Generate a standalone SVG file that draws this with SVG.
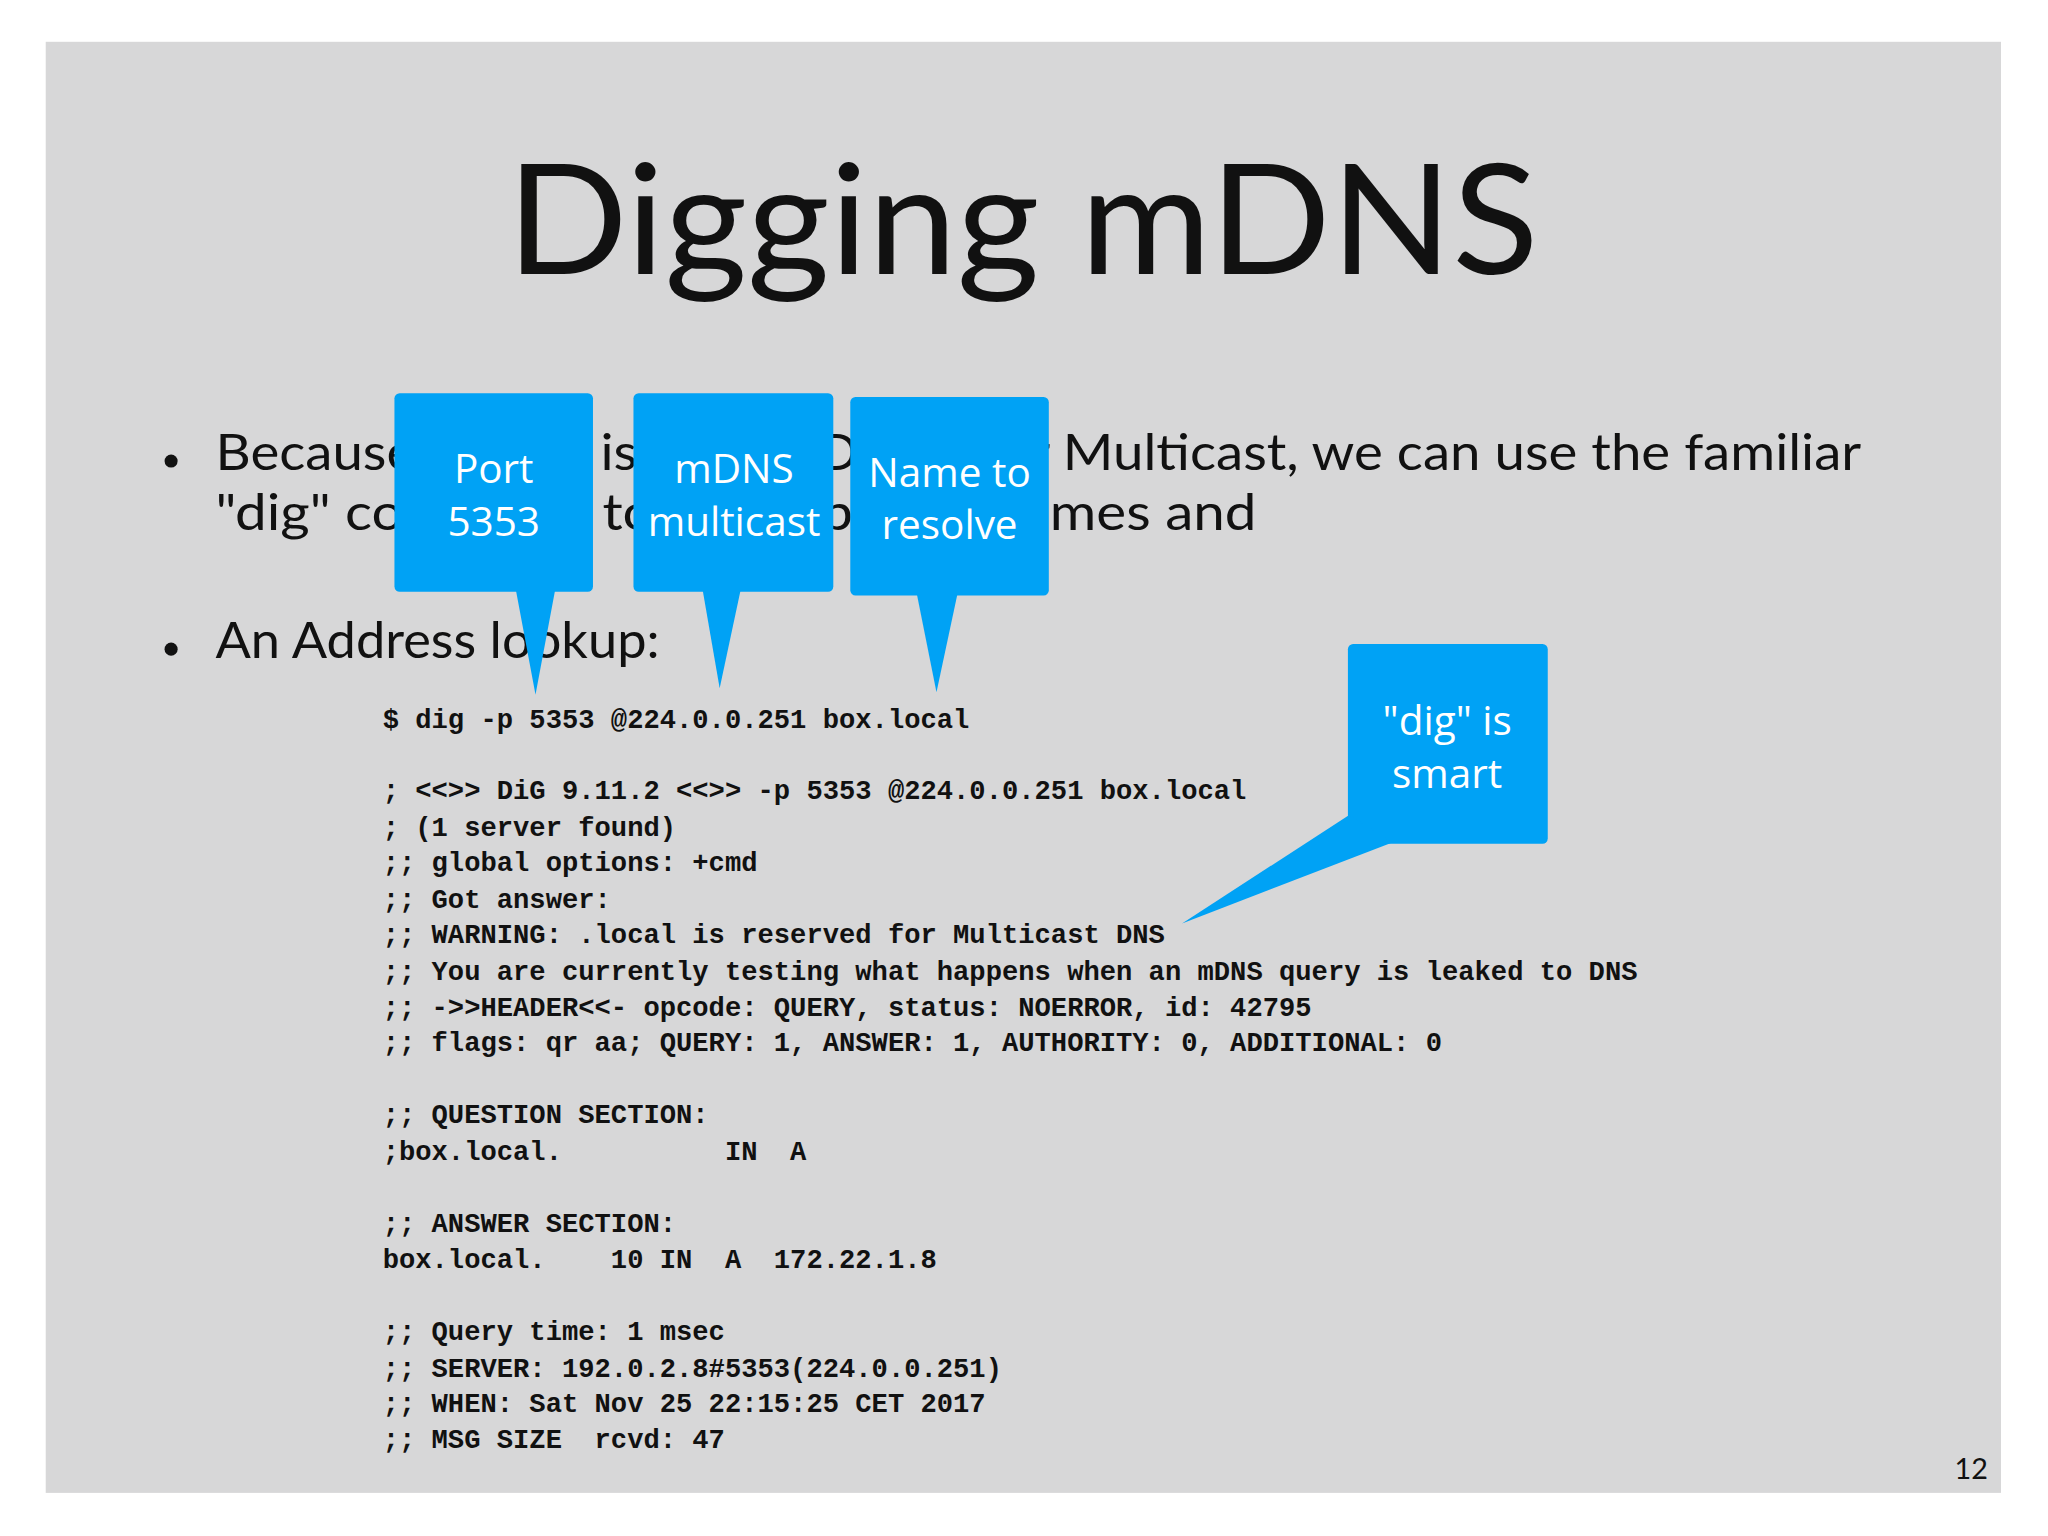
<svg xmlns="http://www.w3.org/2000/svg" width="2048" height="1536" viewBox="0 0 2048 1536">
<style>
.body{font-family:Lato,"Open Sans",sans-serif;fill:#111}
.code{font-family:"Liberation Mono",monospace;font-weight:bold;font-size:20.8px;fill:#111;white-space:pre}
.co{fill:#00a2f5}
.ct{font-family:"Open Sans","Noto Sans",sans-serif;font-size:31px;fill:#fff;text-anchor:middle}
</style>
<rect width="2048" height="1536" fill="#fff"/>
<g transform="scale(1.30612)">
<rect x="35" y="32" width="1497" height="1111" fill="#d7d7d8"/>
<g id="title"><text class="body" x="388" y="210" font-size="118" textLength="790" lengthAdjust="spacingAndGlyphs">Digging mDNS</text></g>
<g id="bullets">
<circle cx="131" cy="353" r="5" fill="#111"/>
<circle cx="131" cy="497" r="5" fill="#111"/>
<text class="body" x="165" y="360" font-size="38" textLength="1260" lengthAdjust="spacingAndGlyphs">Because mDNS is simply DNS over Multicast, we can use the familiar</text>
<text class="body" x="165" y="406" font-size="38" textLength="797" lengthAdjust="spacingAndGlyphs">"dig" command to look up host names and</text>
<text class="body" x="165" y="504" font-size="38" textLength="340" lengthAdjust="spacingAndGlyphs">An Address lookup:</text>
</g>
<g id="code">
<text class="code" x="293" y="557">$ dig -p 5353 @224.0.0.251 box.local</text>
<text class="code" x="293" y="612">; &lt;&lt;&gt;&gt; DiG 9.11.2 &lt;&lt;&gt;&gt; -p 5353 @224.0.0.251 box.local</text>
<text class="code" x="293" y="640">; (1 server found)</text>
<text class="code" x="293" y="667">;; global options: +cmd</text>
<text class="code" x="293" y="695">;; Got answer:</text>
<text class="code" x="293" y="722">;; WARNING: .local is reserved for Multicast DNS</text>
<text class="code" x="293" y="750">;; You are currently testing what happens when an mDNS query is leaked to DNS</text>
<text class="code" x="293" y="778">;; -&gt;&gt;HEADER&lt;&lt;- opcode: QUERY, status: NOERROR, id: 42795</text>
<text class="code" x="293" y="805">;; flags: qr aa; QUERY: 1, ANSWER: 1, AUTHORITY: 0, ADDITIONAL: 0</text>
<text class="code" x="293" y="860">;; QUESTION SECTION:</text>
<text class="code" x="293" y="888">;box.local.          IN  A</text>
<text class="code" x="293" y="943">;; ANSWER SECTION:</text>
<text class="code" x="293" y="971">box.local.    10 IN  A  172.22.1.8</text>
<text class="code" x="293" y="1026">;; Query time: 1 msec</text>
<text class="code" x="293" y="1054">;; SERVER: 192.0.2.8#5353(224.0.0.251)</text>
<text class="code" x="293" y="1081">;; WHEN: Sat Nov 25 22:15:25 CET 2017</text>
<text class="code" x="293" y="1109">;; MSG SIZE  rcvd: 47</text>
</g>
<g id="callout-port">
<rect class="co" x="302" y="301" width="152" height="152" rx="4"/>
<polygon class="co" points="395,452 425,452 410,532"/>
<text class="ct" x="378" y="370">Port</text><text class="ct" x="378" y="410">5353</text>
</g>
<g id="callout-mdns">
<rect class="co" x="485" y="301" width="153" height="152" rx="4"/>
<polygon class="co" points="538,452 567,452 551,527"/>
<text class="ct" x="562" y="370">mDNS</text><text class="ct" x="562" y="410">multicast</text>
</g>
<g id="callout-name">
<rect class="co" x="651" y="304" width="152" height="152" rx="4"/>
<polygon class="co" points="702,455 733,455 717,530"/>
<text class="ct" x="727" y="373">Name to</text><text class="ct" x="727" y="413">resolve</text>
</g>
<g id="callout-dig">
<rect class="co" x="1032" y="493" width="153" height="153" rx="4"/>
<polygon class="co" points="1033,624 1066,645 905,707"/>
<text class="ct" x="1108" y="563">"dig" is</text><text class="ct" x="1108" y="603">smart</text>
</g>
<text class="body" x="1522" y="1132" font-size="22" text-anchor="end">12</text>
</g>
</svg>
